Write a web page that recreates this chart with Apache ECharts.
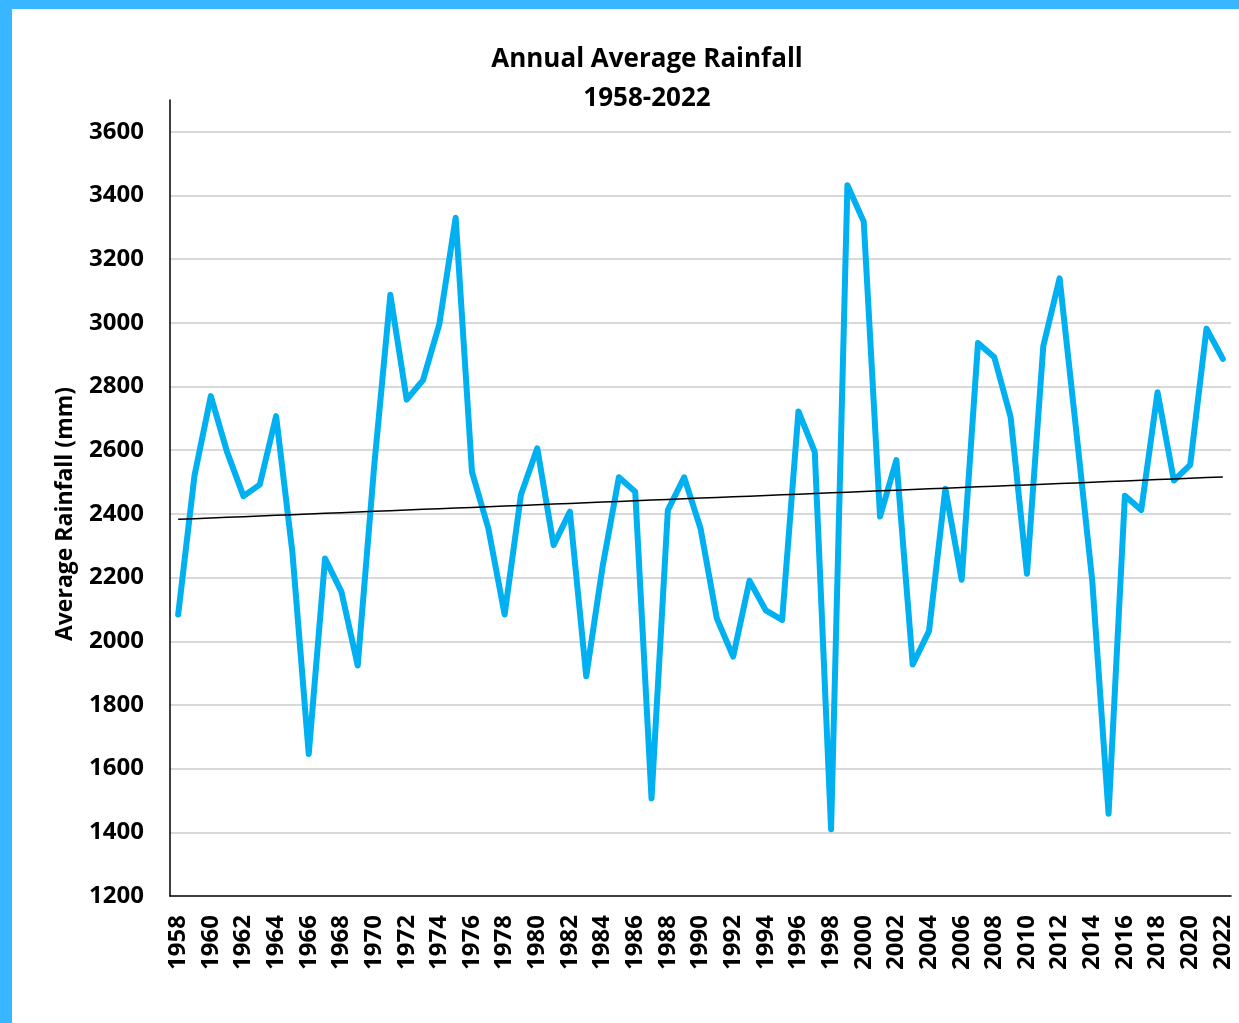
<!DOCTYPE html>
<html>
<head>
<meta charset="utf-8">
<script src="https://cdn.jsdelivr.net/npm/echarts@6/dist/echarts.min.js"></script>
<style>
html,body{margin:0;padding:0;background:#fff;}
#c{position:absolute;left:0;top:0;width:1239px;height:1023px;}
.bt{position:absolute;left:0;top:0;width:1239px;height:9px;background:#38B6FF;}
.bl{position:absolute;left:0;top:0;width:12px;height:1023px;background:#38B6FF;}
</style>
</head>
<body>
<div id="c"></div>
<div class="bt"></div>
<div class="bl"></div>
<script>
const years = ["1958","1959","1960","1961","1962","1963","1964","1965","1966","1967",
  "1968","1969","1970","1971","1972","1973","1974","1975","1976","1977",
  "1978","1979","1980","1981","1982","1983","1984","1985","1986","1987",
  "1988","1989","1990","1991","1992","1993","1994","1995","1996","1997",
  "1998","1999","2000","2001","2002","2003","2004","2005","2006","2007",
  "2008","2009","2010","2011","2012","2013","2014","2015","2016","2017",
  "2018","2019","2020","2021","2022"];
const rainfall = [2084,2520,2770,2594,2456,2492,2707,2279,1646,2260,
  2156,1924,2545,3088,2759,2820,2996,3330,2532,2355,
  2084,2460,2606,2302,2407,1890,2234,2515,2470,1507,
  2412,2515,2355,2072,1952,2190,2097,2067,2722,2595,
  1410,3432,3318,2392,2569,1927,2032,2479,2193,2937,
  2892,2704,2212,2927,3140,2670,2190,1458,2457,2412,
  2782,2505,2554,2982,2887];
const titleText = "Annual Average Rainfall";
const subtitleText = "1958-2022";
const yAxisTitle = "Average Rainfall (mm)";
const yMin = 1200, yMax = 3700, yStep = 200;

// Linear trendline (least squares), as produced by the spreadsheet trendline
const n = rainfall.length;
let sx = 0, sy = 0, sxx = 0, sxy = 0;
rainfall.forEach((v, i) => { sx += i; sy += v; sxx += i * i; sxy += i * v; });
const slope = (n * sxy - sx * sy) / (n * sxx - sx * sx);
const icpt = (sy - slope * sx) / n;
const trend = rainfall.map((v, i) => icpt + slope * i);

const FONT = '"Open Sans", Lato, sans-serif';
const chart = echarts.init(document.getElementById('c'), null, {renderer: 'canvas'});
chart.setOption({
  backgroundColor: '#ffffff',
  animation: false,
  title: {
    text: titleText + '\n' + subtitleText,
    left: 647,
    top: 40,
    textAlign: 'center',
    padding: 0,
    textStyle: {fontFamily: FONT, fontWeight: 'bold', fontSize: 26, lineHeight: 39, color: '#000'}
  },
  grid: {left: 170, right: 8, top: 100, bottom: 127, containLabel: false},
  xAxis: {
    type: 'category',
    data: years,
    boundaryGap: true,
    axisLine: {show: true, lineStyle: {color: '#000', width: 1.5}},
    axisTick: {show: false},
    splitLine: {show: false},
    axisLabel: {interval: 1, rotate: 90, margin: 19, fontFamily: FONT, fontWeight: 'bold', fontSize: 24, color: '#000'}
  },
  yAxis: {
    type: 'value',
    min: yMin, max: yMax, interval: yStep,
    axisLine: {show: true, lineStyle: {color: '#000', width: 1.5}},
    axisTick: {show: false},
    splitLine: {show: true, showMinLine: false, showMaxLine: false, lineStyle: {color: '#d9d9d9', width: 2}},
    axisLabel: {showMaxLabel: false, margin: 26, formatter: v => String(v),
      fontFamily: FONT, fontWeight: 'bold', fontSize: 24, color: '#000'}
  },
  graphic: [{
    type: 'text',
    x: 65, y: 514,
    rotation: Math.PI / 2,
    style: {text: yAxisTitle, x: 0, y: 0, align: 'center', verticalAlign: 'middle',
      font: 'bold 23px ' + FONT, fill: '#000'}
  }],
  series: [
    {
      type: 'line', name: 'Rainfall', data: rainfall, showSymbol: false, z: 2,
      lineStyle: {color: '#00B0F0', width: 6, cap: 'round', join: 'round'}
    },
    {
      type: 'line', name: 'Trend', data: trend, showSymbol: false, z: 3,
      lineStyle: {color: '#000', width: 1.5}
    }
  ]
});
</script>
</body>
</html>
